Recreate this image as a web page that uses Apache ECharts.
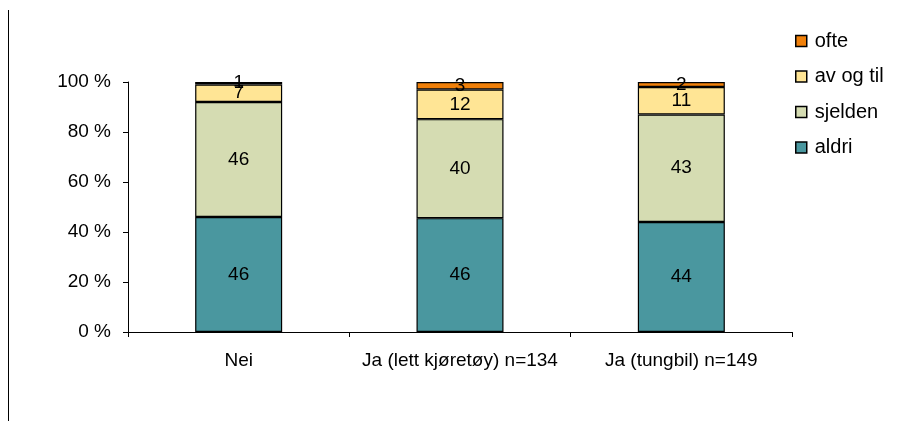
<!DOCTYPE html>
<html>
<head>
<meta charset="utf-8">
<script src="https://cdn.jsdelivr.net/npm/echarts@6/dist/echarts.min.js"></script>
<style>
  html, body { margin: 0; padding: 0; background: #fff; }
  #chart { width: 897px; height: 421px; }
</style>
</head>
<body>
<div id="chart"></div>
<script>
// Answer groups along the x axis
const categories = ['Nei', 'Ja (lett kjøretøy) n=134', 'Ja (tungbil) n=149'];

// Shares per answer, in percent (as labelled)
const aldri    = [46, 46, 44];
const sjelden  = [46, 40, 43];
const avOgTil  = [7, 12, 11];
const ofte     = [1, 3, 2];

const yTicks = [0, 20, 40, 60, 80, 100];

const seriesDefs = [
  { name: 'aldri',     values: aldri,   color: '#4A979F' },
  { name: 'sjelden',   values: sjelden, color: '#D5DCB2' },
  { name: 'av og til', values: avOgTil, color: '#FFE595' },
  { name: 'ofte',      values: ofte,    color: '#F0800A' }
];

// 100 % stacked: each column is scaled to its own total
const totals = categories.map((_, i) =>
  seriesDefs.reduce((s, d) => s + d.values[i], 0));

const font = 'Arial, "Liberation Sans", sans-serif';

const chart = echarts.init(document.getElementById('chart'), null, { renderer: 'canvas' });

chart.setOption({
  animation: false,
  backgroundColor: '#fff',
  textStyle: { fontFamily: font },
  grid: { left: 128, right: 105, top: 82, bottom: 89, containLabel: false },
  legend: {
    orient: 'vertical',
    left: 790,
    top: 26,
    itemGap: 15.5,
    itemWidth: 11,
    itemHeight: 11,
    icon: 'rect',
    data: ['ofte', 'av og til', 'sjelden', 'aldri'],
    textStyle: { fontSize: 20, color: '#000', fontFamily: font, padding: [0, 0, 0, 3] },
    itemStyle: { borderColor: '#000', borderWidth: 1.5 }
  },
  xAxis: {
    type: 'category',
    data: categories,
    axisLine: { lineStyle: { color: '#000', width: 1 } },
    axisTick: { show: true, length: 5, lineStyle: { color: '#000' } },
    axisLabel: { color: '#000', fontSize: 19, margin: 19, fontFamily: font, interval: 0 }
  },
  yAxis: {
    type: 'value',
    min: 0,
    max: 100,
    interval: 20,
    axisLine: { show: true, lineStyle: { color: '#000', width: 1 } },
    axisTick: { show: true, length: 5, lineStyle: { color: '#000' } },
    splitLine: { show: false },
    axisLabel: {
      color: '#000', fontSize: 19, margin: 17, fontFamily: font,
      formatter: v => (yTicks.includes(v) ? v + ' %' : '')
    }
  },
  series: seriesDefs.map(d => ({
    name: d.name,
    type: 'bar',
    stack: 'total',
    barWidth: 87,
    itemStyle: { color: d.color, borderColor: '#000', borderWidth: 1.2 },
    label: {
      show: true,
      position: 'inside',
      color: '#000',
      fontSize: 19,
      fontFamily: font,
      formatter: p => String(d.values[p.dataIndex])
    },
    data: d.values.map((v, i) => v / totals[i] * 100)
  })),
  graphic: [
    {
      type: 'line',
      shape: { x1: 8.5, y1: 10, x2: 8.5, y2: 421 },
      style: { stroke: '#000', lineWidth: 1 }
    }
  ]
});
</script>
</body>
</html>
